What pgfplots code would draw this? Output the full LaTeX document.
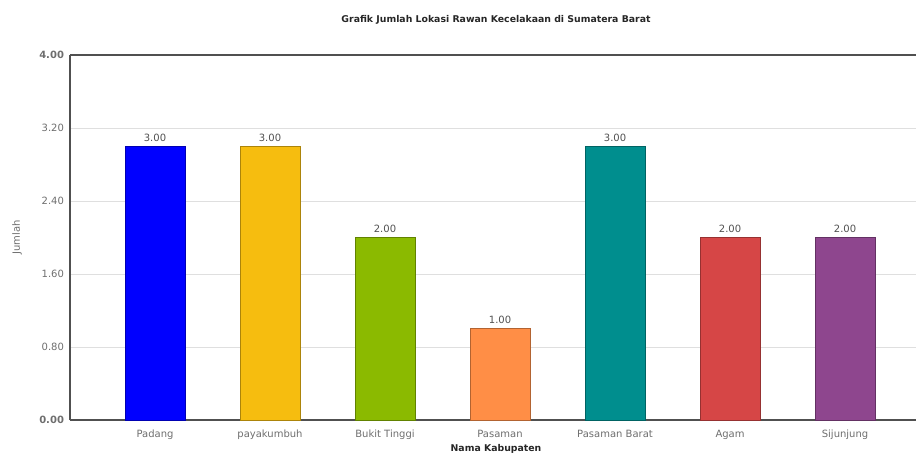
\documentclass[border=0pt]{standalone}
\usepackage{fontspec}
\setmainfont{DejaVu Sans}
\usepackage{pgfplots}
\pgfplotsset{compat=1.18}
\definecolor{cPad}{RGB}{0,0,255}
\definecolor{cPay}{RGB}{246,189,15}
\definecolor{cBuk}{RGB}{139,186,0}
\definecolor{cPas}{RGB}{255,142,70}
\definecolor{cPB}{RGB}{0,142,142}
\definecolor{cAga}{RGB}{214,70,70}
\definecolor{cSij}{RGB}{142,70,142}
\definecolor{axcol}{RGB}{80,80,80}
\definecolor{tickcol}{RGB}{110,110,110}
\begin{document}
\begin{tikzpicture}
\path[use as bounding box] (0,0) rectangle (687pt,340.5pt);
\begin{axis}[
  at={(52.5pt,25.5pt)}, anchor=south west,
  scale only axis, width=634.5pt, height=273.75pt,
  xmin=-0.739, xmax=6.617, ymin=0, ymax=4,
  axis y line*=left, axis x line*=bottom,
  axis line style={axcol, line width=1.2pt, -},
  xtick={0,1,2,3,4,5,6},
  xticklabels={Padang,payakumbuh,Bukit Tinggi,Pasaman,Pasaman Barat,Agam,Sijunjung},
  ytick={0,0.8,1.6,2.4,3.2,4},
  yticklabels={\textbf{0.00},0.80,1.60,2.40,3.20,\textbf{4.00}},
  major tick length=0pt,
  tick label style={font=\fontsize{7.5}{9}\selectfont, text=tickcol},
  xticklabel style={yshift=-4pt},
  yticklabel style={xshift=-1pt},
  ymajorgrids, grid style={gray!25, line width=0.6pt},
  ybar, bar width=0.52, bar shift=0pt,
  nodes near coords,
  nodes near coords style={font=\fontsize{7.5}{9}\selectfont, text=axcol,
    /pgf/number format/.cd, fixed, fixed zerofill, precision=2, assume math mode=true},
  clip=false,
]
\addplot[fill=cPad, draw=cPad!70!black, line width=0.5pt] coordinates {(0,3)};
\addplot[fill=cPay, draw=cPay!70!black, line width=0.5pt] coordinates {(1,3)};
\addplot[fill=cBuk, draw=cBuk!70!black, line width=0.5pt] coordinates {(2,2)};
\addplot[fill=cPas, draw=cPas!70!black, line width=0.5pt] coordinates {(3,1)};
\addplot[fill=cPB, draw=cPB!70!black, line width=0.5pt] coordinates {(4,3)};
\addplot[fill=cAga, draw=cAga!70!black, line width=0.5pt] coordinates {(5,2)};
\addplot[fill=cSij, draw=cSij!70!black, line width=0.5pt] coordinates {(6,2)};
\draw[axcol, line width=1.2pt] (rel axis cs:0,1) -- (rel axis cs:1,1);
\end{axis}
\node[font=\bfseries\fontsize{7}{8}\selectfont, text=black!85] at (372pt,325.5pt) {Grafik Jumlah Lokasi Rawan Kecelakaan di Sumatera Barat};
\node[font=\bfseries\fontsize{7}{8}\selectfont, text=black!85] at (372pt,3.5pt) {Nama Kabupaten};
\node[font=\fontsize{7.5}{9}\selectfont, text=tickcol, rotate=90] at (12.75pt,162.4pt) {Jumlah};
\end{tikzpicture}
\end{document}
